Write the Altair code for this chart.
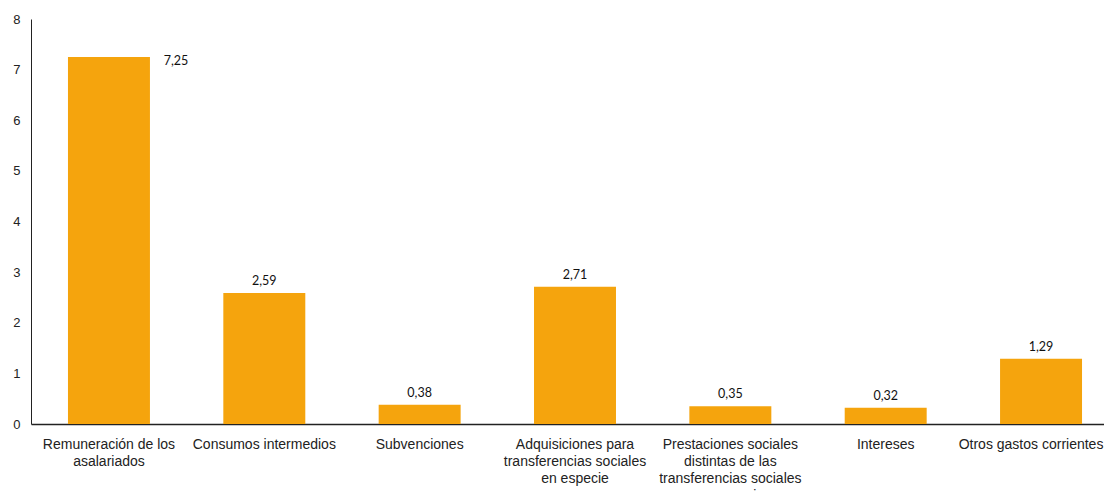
import altair as alt
import pandas as pd

categories = [
    "Remuneración de los\nasalariados",
    "Consumos intermedios",
    "Subvenciones",
    "Adquisiciones para\ntransferencias sociales\nen especie",
    "Prestaciones sociales\ndistintas de las\ntransferencias sociales\nen especie",
    "Intereses",
    "Otros gastos corrientes",
]
values = [7.25, 2.59, 0.38, 2.71, 0.35, 0.32, 1.29]
value_labels = ["7,25", "2,59", "0,38", "2,71", "0,35", "0,32", "1,29"]

df = pd.DataFrame({"cat": categories, "val": values, "lab": value_labels,
                   "idx": list(range(len(categories)))})

xscale = alt.Scale(domain=categories, range=[0, 1088], paddingInner=0.4723, paddingOuter=0.238)
yscale = alt.Scale(domain=[0, 8], nice=False)

base = alt.Chart(df)

last_cat = categories[-1]

bars = base.mark_bar(color="#F5A40D").encode(
    x=alt.X("cat:N", scale=xscale, sort=None, title=None,
            axis=alt.Axis(labelAngle=0, labelExpr="split(datum.value, '\\n')",
                          labelFont="Liberation Sans", labelFontSize=14,
                          labelColor="#222222", labelLineHeight=17,
                          labelPadding=13, ticks=False, domainColor="#222222",
                          domainWidth=1.5, labelLimit=0, labelOverlap=False,
                          labelBaseline="top",
                          labelOffset=alt.condition(f"datum.value == '{last_cat}'",
                                                    alt.value(-10), alt.value(0)))),
    y=alt.Y("val:Q", scale=yscale, title=None,
            axis=alt.Axis(values=list(range(0, 9)), grid=False, ticks=False,
                          labelFont="Liberation Sans", labelFontSize=13,
                          labelColor="#222222", labelPadding=11,
                          domainColor="#222222", domainWidth=1)),
)

txt_first = base.transform_filter("datum.idx == 0").mark_text(
    font="Lato", fontSize=12.5, color="#111111", dx=67, dy=4, baseline="middle"
).encode(x=alt.X("cat:N", scale=xscale, sort=None), y=alt.Y("val:Q", scale=yscale), text="lab:N")

txt_rest = base.transform_filter("datum.idx > 0").mark_text(
    font="Lato", fontSize=12.5, color="#111111", dy=-12, baseline="middle"
).encode(x=alt.X("cat:N", scale=xscale, sort=None), y=alt.Y("val:Q", scale=yscale), text="lab:N")

chart = alt.layer(bars, txt_first, txt_rest).properties(
    width=1073, height=405,
    autosize=alt.AutoSizeParams(type="none"),
    padding={"left": 23, "top": 11, "right": 0, "bottom": 67},
).configure_view(stroke=None)

chart.save("out.html", embed_options={"renderer": "svg", "actions": False})
